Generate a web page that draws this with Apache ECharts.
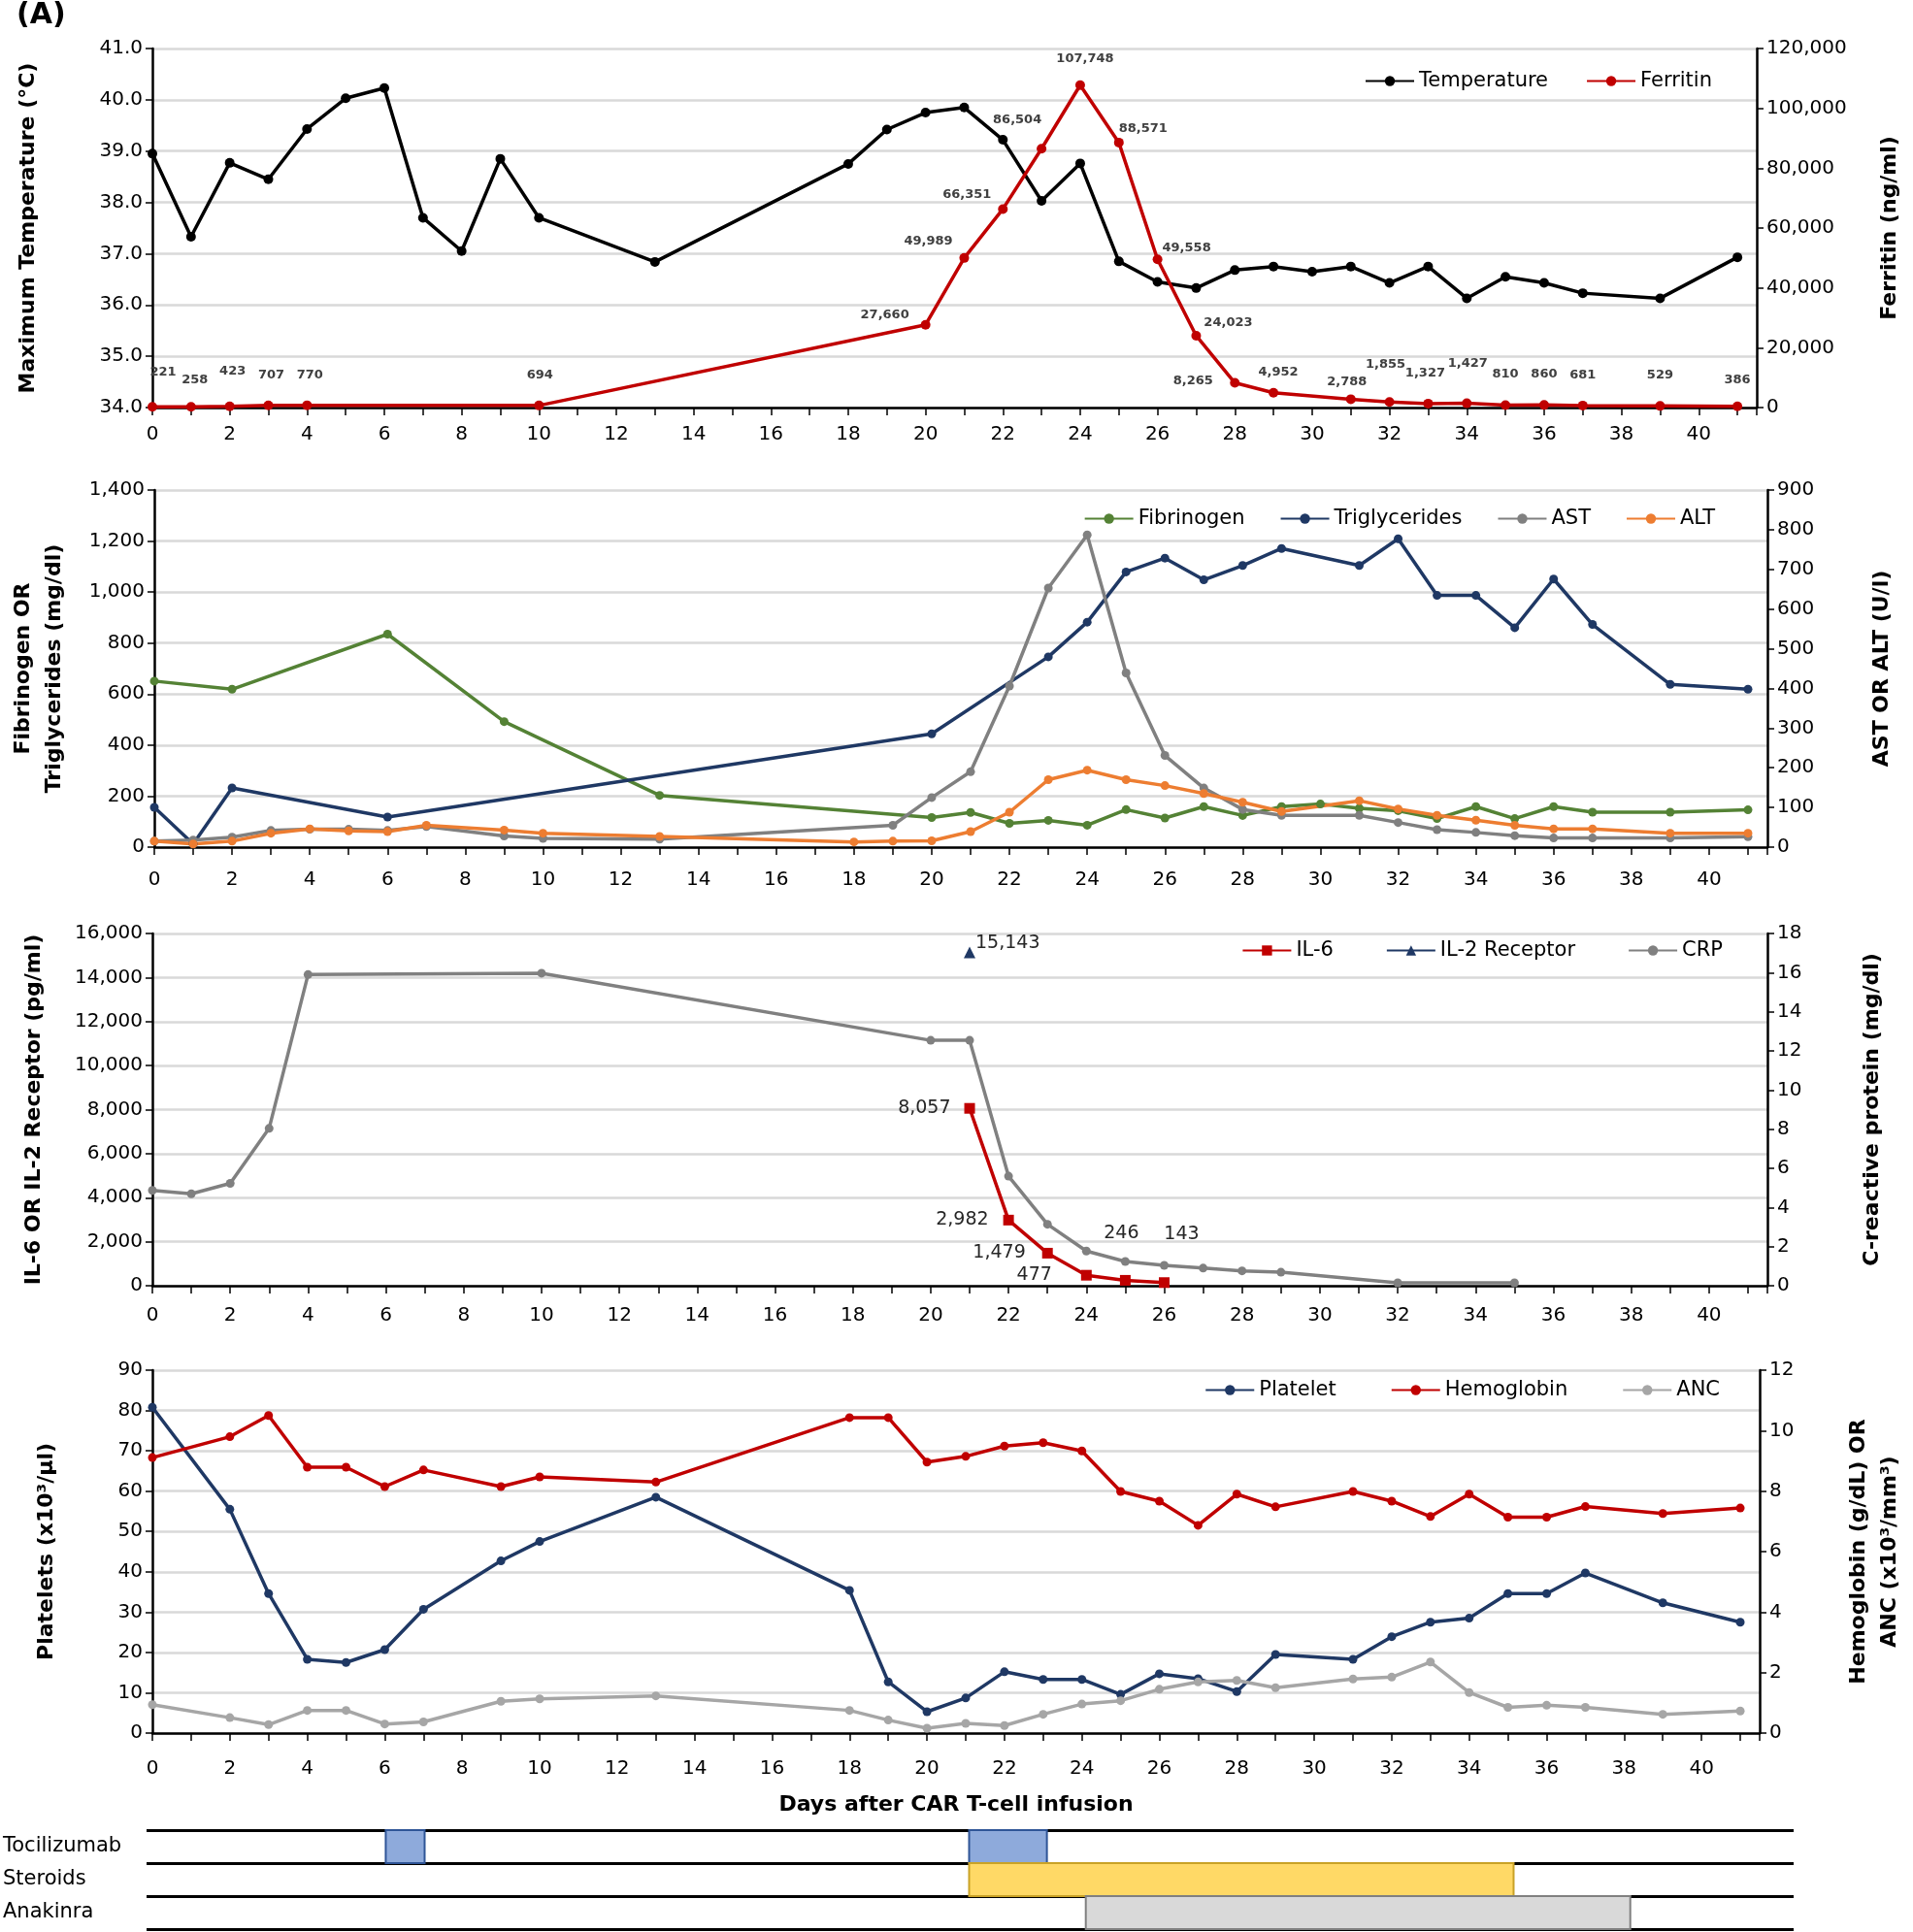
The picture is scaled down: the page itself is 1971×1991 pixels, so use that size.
<!DOCTYPE html>
<html><head><meta charset="utf-8">
<script src="https://cdn.jsdelivr.net/npm/echarts@6/dist/echarts.min.js"></script>
<style>html,body{margin:0;padding:0;background:#fff}#c{width:1971px;height:1991px}</style>
</head><body><div id="c"></div>
<script>
// ---------- DATA ----------
const tempDays = [0,1,2,3,4,5,6,7,8,9,10,13,18,19,20,21,22,23,24,25,26,27,28,29,30,31,32,33,34,35,36,37,39,41];
const tempVals = [38.95,37.33,38.77,38.45,39.43,40.03,40.23,37.7,37.05,38.85,37.7,36.84,38.75,39.42,39.75,39.85,39.22,38.03,38.76,36.85,36.45,36.33,36.68,36.75,36.65,36.75,36.43,36.75,36.13,36.55,36.43,36.23,36.13,36.93];
const ferrDays = [0,1,2,3,4,10,20,21,22,23,24,25,26,27,28,29,31,32,33,34,35,36,37,39,41];
const ferrVals = [221,258,423,707,770,694,27660,49989,66351,86504,107748,88571,49558,24023,8265,4952,2788,1855,1327,1427,810,860,681,529,386];

const fibDays = [0,2,6,9,13,20,21,22,23,24,25,26,27,28,29,30,31,32,33,34,35,36,37,39,41];
const fibVals = [651,619,835,492,203,116,136,93,105,86,147,114,159,124,159,169,152,143,112,159,112,159,137,137,146];
const trigDays = [0,1,2,6,20,23,24,25,26,27,28,29,31,32,33,34,35,36,37,39,41];
const trigVals = [156,12,232,118,444,746,882,1079,1133,1048,1104,1171,1104,1209,987,987,860,1051,873,638,619];
const astDays = [0,1,2,3,4,5,6,7,9,10,13,19,20,21,22,23,24,25,26,27,28,29,31,32,33,34,35,36,37,39,41];
const astVals = [15,18,25,42,45,45,42,52,28,22,20,55,125,190,406,653,787,439,231,149,95,80,80,62,44,37,29,23,23,23,26];
const altDays = [0,1,2,3,4,5,6,7,9,10,13,18,19,20,21,22,23,24,25,26,27,28,29,31,32,33,34,35,36,37,39,41];
const altVals = [15,8,15,35,46,41,39,55,43,35,27,13,15,16,39,88,170,194,170,155,135,113,90,117,96,80,68,55,46,46,35,35];

const crpDays = [0,1,2,3,4,10,20,21,22,23,24,25,26,27,28,29,32,35];
const crpVals = [4.87,4.7,5.23,8.04,15.9,15.97,12.54,12.54,5.6,3.14,1.77,1.24,1.04,0.9,0.76,0.69,0.15,0.15];
const il6Days = [21,22,23,24,25,26];
const il6Vals = [8057,2982,1479,477,246,143];
const il2Days = [21];
const il2Vals = [15143];

const cbcDays = [0,2,3,4,5,6,7,9,10,13,18,19,20,21,22,23,24,25,26,27,28,29,31,32,33,34,35,36,37,39,41];
const pltVals = [80.8,55.5,34.6,18.3,17.5,20.7,30.7,42.7,47.5,58.5,35.4,12.7,5.3,8.7,15.2,13.3,13.3,9.6,14.7,13.5,10.3,19.5,18.3,23.9,27.5,28.5,34.6,34.6,39.7,32.3,27.5];
const hgbVals = [9.11,9.8,10.5,8.79,8.79,8.15,8.7,8.15,8.47,8.3,10.43,10.43,8.96,9.15,9.49,9.6,9.33,7.99,7.67,6.87,7.9,7.48,7.99,7.67,7.16,7.9,7.14,7.14,7.49,7.26,7.44];
const ancVals = [0.94,0.51,0.28,0.75,0.75,0.3,0.37,1.05,1.13,1.23,0.75,0.43,0.16,0.32,0.25,0.62,0.96,1.07,1.45,1.69,1.74,1.5,1.79,1.85,2.35,1.34,0.85,0.92,0.85,0.62,0.73];

const treatments = ['Tocilizumab','Steroids','Anakinra'];
const tociPeriods = [[6,7],[21,23]];
const steroidPeriods = [[21,35]];
const anakinraPeriods = [[24,38]];

// ---------- LAYOUT / STYLE ----------
const FONT = "'DejaVu Sans', sans-serif";
const pair = (ds, vs) => ds.map((d, i) => [d, vs[i]]);
const fmt = v => Number(v).toLocaleString('en-US');
const ferrLabelOffsets = [[11,-24],[4,-16],[3,-25],[3,-20],[3,-20],[1,-20],[-42,1],[-37,-6],[-37,-3],[-25,-18],[5,-16],[25,-3],[30,0],[33,-2],[-43,10],[5,-10],[-4,-6],[-4,-27],[-3,-20],[1,-29],[0,-20],[0,-20],[0,-20],[0,-20],[0,-16]];
const il6Labels = [
  {position:'left', distance:14},
  {position:'left', distance:15},
  {position:'left', distance:17},
  {position:'left', distance:30},
  {position:'top', distance:33, offset:[-4,0]},
  {position:'top', distance:35, offset:[18,0]}
];

const GL = 157, GR = 150;
const grids = [
  {left:GL, right:GR, top:50, height:370},
  {left:GL, right:GR, top:505, height:368},
  {left:GL, right:GR, top:962, height:363},
  {left:GL, right:GR, top:1412, height:374},
  {left:151, right:123, top:1886, height:102}
];
const xMargins = [18, 24, 21, 27];

function xAx(i, extra) {
  return Object.assign({
    type:'value', gridIndex:i, min:0, max:41.5, interval:1,
    axisLine:{onZero:false, lineStyle:{color:'#000', width:2.5}},
    axisTick:{length:8, lineStyle:{color:'#000', width:1.5}},
    axisLabel:{fontFamily:FONT, fontSize:20, color:'#000', margin:xMargins[i],
      formatter: v => (v % 2 === 0 && v <= 40) ? String(v) : ''},
    splitLine:{show:false}
  }, extra || {});
}
function yAx(grid, pos, min, max, interval, fmtFn, name, nameGap, split) {
  return {
    type:'value', gridIndex:grid, position:pos, min, max, interval,
    name, nameLocation:'middle', nameGap, nameRotate:90,
    nameTextStyle:{fontFamily:FONT, fontSize:22, fontWeight:'bold', color:'#000', lineHeight:32},
    axisLine:{show:true, onZero:false, lineStyle:{color:'#000', width:2.5}},
    axisTick:{show:true, length:7, lineStyle:{color:'#000', width:1.5}},
    axisLabel:{fontFamily:FONT, fontSize:20, color:'#000', margin:10, formatter:fmtFn},
    splitLine:{show:split, lineStyle:{color:'#d9d9d9', width:2.5}}
  };
}
function ln(name, x, y, data, color, symbol, size, extra) {
  return Object.assign({
    type:'line', name, xAxisIndex:x, yAxisIndex:y, data, symbol, symbolSize:size,
    showAllSymbol:true, lineStyle:{color, width:3.5}, itemStyle:{color},
    emphasis:{disabled:true}, z:3
  }, extra || {});
}
function lg(data, right, top, gap) {
  return {data, right, top, itemGap:gap, itemWidth:50, itemHeight:13, selectedMode:false,
    textStyle:{fontFamily:FONT, fontSize:21, color:'#000'}};
}

const ferrData = pair(ferrDays, ferrVals).map((p, i) => ({
  value:p, label:{show:true, position:'top', distance:0, offset:ferrLabelOffsets[i]}
}));
const il6Data = pair(il6Days, il6Vals).map((p, i) => ({value:p, label:Object.assign({show:true}, il6Labels[i])}));
const il2Data = pair(il2Days, il2Vals).map(p => ({value:p, label:{show:true, position:'right', distance:0, offset:[0,-9]}}));

const barStyles = [
  {fill:'#8eaadb', stroke:'#2f5597'},
  {fill:'#ffd966', stroke:'#c9a227'},
  {fill:'#d9d9d9', stroke:'#808080'}
];
const barData = []
  .concat(tociPeriods.map(p => [p[0], p[1], 0]))
  .concat(steroidPeriods.map(p => [p[0], p[1], 1]))
  .concat(anakinraPeriods.map(p => [p[0], p[1], 2]));

const option = {
  animation:false,
  backgroundColor:'#fff',
  title:{text:'(A)', left:12, top:-4, textStyle:{fontFamily:FONT, fontSize:30, fontWeight:'bold', color:'#000'}},
  grid:grids,
  legend:[
    lg(['Temperature','Ferritin'], 202, 68, 39),
    lg(['Fibrinogen','Triglycerides','AST','ALT'], 199, 519, 36),
    lg(['IL-6','IL-2 Receptor','CRP'], 191, 964, 54),
    lg(['Platelet','Hemoglobin','ANC'], 194, 1417, 56)
  ],
  xAxis:[
    xAx(0), xAx(1), xAx(2),
    xAx(3, {name:'Days after CAR T-cell infusion', nameLocation:'middle', nameGap:63,
      nameTextStyle:{fontFamily:FONT, fontSize:22, fontWeight:'bold', color:'#000'}}),
    {type:'value', gridIndex:4, min:-0.15, max:42.2, show:false}
  ],
  yAxis:[
    yAx(0,'left',34,41,1, v => v.toFixed(1), 'Maximum Temperature (°C)', 112, true),
    yAx(0,'right',0,120000,20000, fmt, 'Ferritin (ng/ml)', 121, false),
    yAx(1,'left',0,1400,200, fmt, 'Fibrinogen OR\nTriglycerides (mg/dl)', 87, true),
    yAx(1,'right',0,900,100, fmt, 'AST OR ALT (U/l)', 102, false),
    yAx(2,'left',0,16000,2000, fmt, 'IL-6 OR IL-2 Receptor (pg/ml)', 106, true),
    yAx(2,'right',0,18,2, fmt, 'C-reactive protein (mg/dl)', 92, false),
    yAx(3,'left',0,90,10, fmt, 'Platelets (x10³/µl)', 93, true),
    yAx(3,'right',0,12,2, fmt, 'Hemoglobin (g/dL) OR\nANC (x10³/mm³)', 86, false),
    {type:'category', gridIndex:4, data:treatments, inverse:true,
      axisLine:{show:false}, axisTick:{show:false},
      splitLine:{show:true, lineStyle:{color:'#000', width:3}},
      axisLabel:{align:'left', margin:148, fontFamily:FONT, fontSize:21, color:'#000'}}
  ],
  series:[
    ln('Temperature',0,0,pair(tempDays,tempVals),'#000','circle',10),
    ln('Ferritin',0,1,ferrData,'#c00000','circle',10,{
      label:{fontFamily:FONT, fontSize:13, fontWeight:'bold', color:'#404040', formatter:p => fmt(p.value[1])}}),
    ln('Fibrinogen',1,2,pair(fibDays,fibVals),'#548235','circle',9),
    ln('Triglycerides',1,2,pair(trigDays,trigVals),'#1f3864','circle',9),
    ln('AST',1,3,pair(astDays,astVals),'#808080','circle',9),
    ln('ALT',1,3,pair(altDays,altVals),'#ed7d31','circle',9),
    ln('IL-6',2,4,il6Data,'#c00000','rect',11,{
      label:{fontFamily:FONT, fontSize:19, color:'#262626', formatter:p => fmt(p.value[1])}}),
    ln('IL-2 Receptor',2,4,il2Data,'#1f3864','triangle',12,{
      label:{fontFamily:FONT, fontSize:19, color:'#262626', formatter:p => fmt(p.value[1])}}),
    ln('CRP',2,5,pair(crpDays,crpVals),'#808080','circle',9),
    ln('Platelet',3,6,pair(cbcDays,pltVals),'#1f3864','circle',9),
    ln('Hemoglobin',3,7,pair(cbcDays,hgbVals),'#c00000','circle',9),
    ln('ANC',3,7,pair(cbcDays,ancVals),'#a6a6a6','circle',9),
    {type:'custom', name:'Treatments', xAxisIndex:4, yAxisIndex:8, data:barData, z:5,
      renderItem:(params, api) => {
        const row = api.value(2);
        const s = api.coord([api.value(0), row]);
        const e = api.coord([api.value(1), row]);
        const h = api.size([0, 1])[1];
        const st = barStyles[row];
        return {type:'rect', shape:{x:s[0], y:s[1]-h/2, width:e[0]-s[0], height:h},
          style:{fill:st.fill, stroke:st.stroke, lineWidth:2}};
      }}
  ]
};
const chart = echarts.init(document.getElementById('c'), null, {renderer:'canvas'});
chart.setOption(option);
</script></body></html>
